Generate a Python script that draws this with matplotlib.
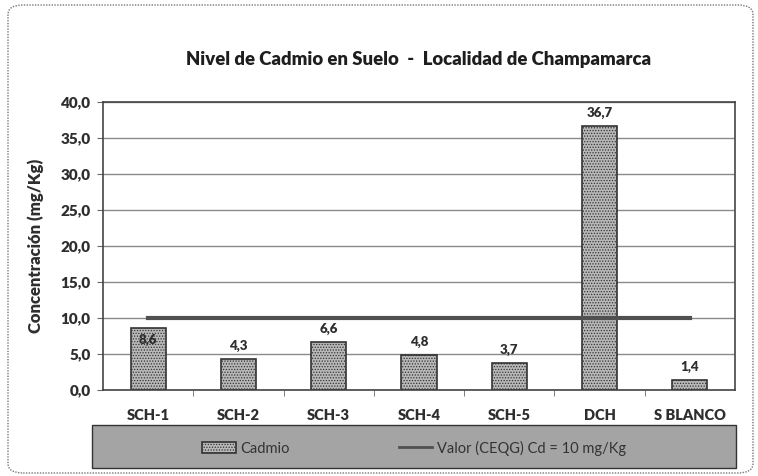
import matplotlib.pyplot as plt
from matplotlib.patches import FancyBboxPatch

plt.rcParams['font.family'] = ['Lato', 'DejaVu Sans']
plt.rcParams['hatch.color'] = "#9a9a9a"
plt.rcParams['hatch.linewidth'] = 0.6

estaciones = ["SCH-1", "SCH-2", "SCH-3", "SCH-4", "SCH-5", "DCH", "S BLANCO"]
cadmio = [8.6, 4.3, 6.6, 4.8, 3.7, 36.7, 1.4]
limite = [10, 10, 10, 10, 10, 10, 10]
etiquetas = ["8,6", "4,3", "6,6", "4,8", "3,7", "36,7", "1,4"]

W, H = 758, 476
peso = "heavy"
gris = "#2e2e2e"
fig = plt.figure(figsize=(W / 100, H / 100), dpi=100)
fig.patch.set_facecolor("white")

# marco redondeado exterior
marco = FancyBboxPatch((8 / W, 3 / H), 745 / W, 468 / H,
                       boxstyle="round,pad=0,rounding_size=0.02",
                       transform=fig.transFigure, facecolor="none",
                       edgecolor="#777777", linewidth=1.0, linestyle=(0, (1, 1)),
                       zorder=-1)
fig.patches.append(marco)

ax = fig.add_axes([103 / W, 1 - 390 / H, 632 / W, 288 / H])
x = list(range(len(estaciones)))

barras = ax.bar(x, cadmio, width=0.39, color="#b8b8b8", edgecolor="#333333",
                linewidth=1.2, hatch="......", zorder=2, label="Cadmio")
linea, = ax.plot(x, limite, color="#505050", linewidth=3, zorder=3,
                 label="Valor (CEQG) Cd = 10 mg/Kg")

for i, (v, t) in enumerate(zip(cadmio, etiquetas)):
    if i == 0:
        ax.text(i, v - 1.7, t, ha="center", va="center", fontsize=9.5,
                fontweight=peso, color=gris, zorder=4)
    else:
        ax.text(i, v + 1.0, t, ha="center", va="bottom", fontsize=9.5,
                fontweight=peso, color=gris, zorder=4)

ax.set_xlim(-0.5, len(estaciones) - 0.5)
ax.set_ylim(0, 40)
ax.set_yticks(range(0, 41, 5))
ax.set_yticklabels([f"{v:.1f}".replace(".", ",") for v in range(0, 41, 5)],
                   fontsize=11, fontweight=peso, color=gris)
ax.set_xticks(x)
ax.set_xticklabels(estaciones, fontsize=10.5, fontweight=peso, color=gris)
ax.set_xticks([i + 0.5 for i in x[:-1]], minor=True)
ax.tick_params(axis="x", which="major", length=0, pad=14)
ax.tick_params(axis="x", which="minor", length=4, color="#666666")
ax.tick_params(axis="y", length=4, color="#666666", pad=5)
ax.yaxis.grid(True, color="#8a8a8a", linewidth=1.0, zorder=0)
ax.set_axisbelow(True)
for s in ax.spines.values():
    s.set_color("#444444")
    s.set_linewidth(1.2)

ax.set_ylabel("Concentración (mg/Kg)", fontsize=12, fontweight=peso,
              color=gris, labelpad=12)
fig.text(419 / W, 1 - 59 / H,
         "Nivel de Cadmio en Suelo  -  Localidad de Champamarca",
         ha="center", va="center", fontsize=13.3, fontweight=peso, color="#1e1e1e")

# caja de leyenda gris
caja = FancyBboxPatch((92 / W, 1 - 468 / H), 644 / W, 43 / H,
                      boxstyle="square,pad=0", transform=fig.transFigure,
                      facecolor="#a4a4a4", edgecolor="#333333", linewidth=1.0)
fig.patches.append(caja)
leg = fig.legend([barras, linea], ["Cadmio", "Valor (CEQG) Cd = 10 mg/Kg"],
                 loc="center", bbox_to_anchor=(414 / W, 1 - 448 / H),
                 ncol=2, frameon=False, fontsize=10.5,
                 handlelength=2.3, handletextpad=0.3, columnspacing=7.5)
leg.get_lines()[0].set_linewidth(2) if leg.get_lines() else None
for t in leg.get_texts():
    t.set_color("#333333")

fig.savefig("out.png", dpi=100)
